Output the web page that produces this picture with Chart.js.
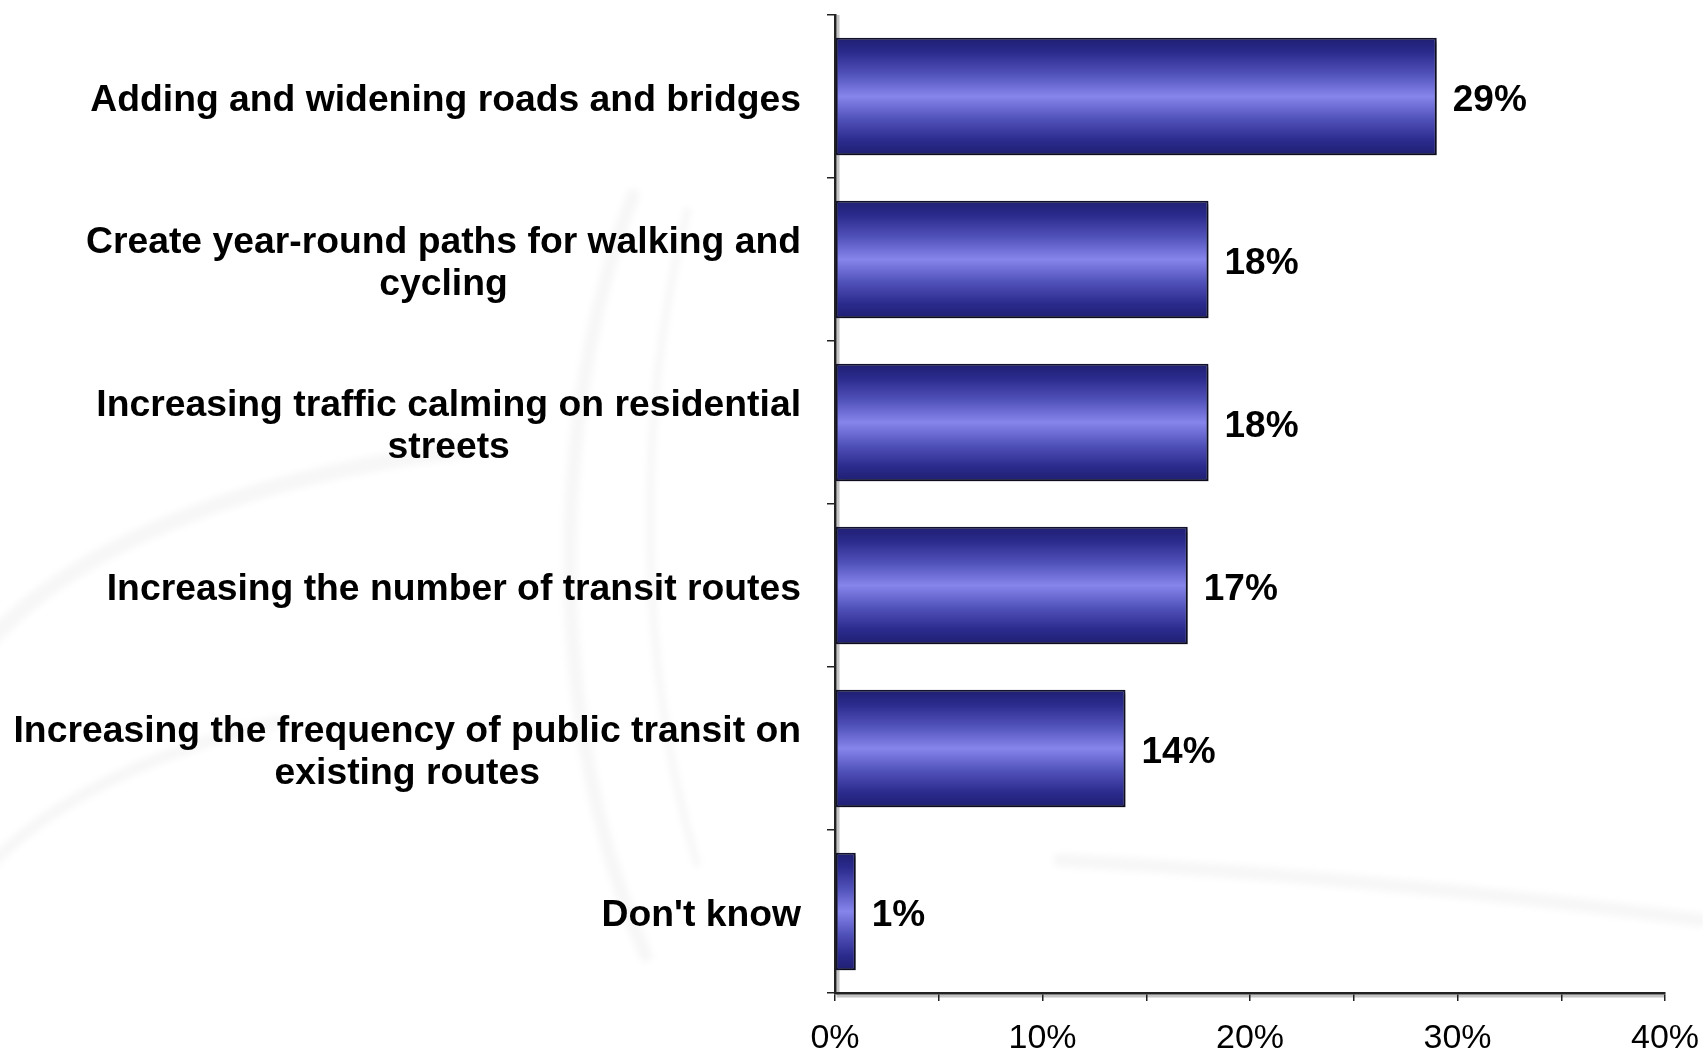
<!DOCTYPE html>
<html>
<head>
<meta charset="utf-8">
<script src="https://cdn.jsdelivr.net/npm/chart.js@4"></script>
<style>
  html, body { margin: 0; padding: 0; background: #fff; }
  #wrap { width: 1703px; height: 1049px; }
</style>
</head>
<body>
<div id="wrap"><canvas id="userChart" width="1703" height="1049"></canvas></div>
<script>
    // survey answers, one bar each
    let categories = [
        ['Adding and widening roads and bridges'],
        ['Create year-round paths for walking and', 'cycling'],
        ['Increasing traffic calming on residential', 'streets'],
        ['Increasing the number of transit routes'],
        ['Increasing the frequency of public transit on', 'existing routes'],
        ["Don't know"]
    ];
    let shares = [29, 18, 18, 17, 14, 1];

    let axisMin = 0;
    let axisMax = 40;
    let axisStep = 5;
    let labelStep = 10;

    let font = "'Liberation Sans', Arial, sans-serif";

    // vertical shine across each bar
    function barFill(c) {
        let chart = c.chart;
        let y = chart.scales.y;
        if (!chart.chartArea || !y) return '#4b4bb0';
        let mid = y.getPixelForValue(c.dataIndex);
        let half = (chart.chartArea.height / categories.length) * 0.72 / 2;
        let g = chart.ctx.createLinearGradient(0, mid - half, 0, mid + half);
        g.addColorStop(0, '#1f1f72');
        g.addColorStop(0.12, '#2a2a8c');
        g.addColorStop(0.3, '#4f4fb8');
        g.addColorStop(0.5, '#8585ec');
        g.addColorStop(0.7, '#4f4fb8');
        g.addColorStop(0.88, '#2a2a8c');
        g.addColorStop(1, '#1f1f72');
        return g;
    }

    // faint swooshes behind the chart
    let backdrop = {
        id: 'backdrop',
        beforeDraw(chart) {
            let ctx = chart.ctx;
            ctx.save();
            ctx.strokeStyle = 'rgba(0,0,0,0.03)';
            ctx.lineCap = 'round';
            ctx.filter = 'blur(3px)';
            ctx.lineWidth = 14;
            ctx.beginPath();
            ctx.ellipse(900, 560, 330, 620, 0, Math.PI * 0.78, Math.PI * 1.2);
            ctx.stroke();
            ctx.lineWidth = 8;
            ctx.beginPath();
            ctx.ellipse(950, 520, 300, 640, 0, Math.PI * 0.82, Math.PI * 1.16);
            ctx.stroke();
            ctx.lineWidth = 16;
            ctx.beginPath();
            ctx.ellipse(640, 760, 700, 320, 0, Math.PI * 1.08, Math.PI * 1.42);
            ctx.stroke();
            ctx.lineWidth = 12;
            ctx.beginPath();
            ctx.ellipse(560, 980, 620, 290, 0, Math.PI * 1.05, Math.PI * 1.35);
            ctx.stroke();
            ctx.lineWidth = 14;
            ctx.beginPath();
            ctx.moveTo(1060, 860);
            ctx.quadraticCurveTo(1400, 880, 1700, 920);
            ctx.stroke();
            ctx.restore();

            // soft grey shadow under the axis lines
            let a = chart.chartArea;
            ctx.save();
            ctx.strokeStyle = '#c4c4c4';
            ctx.lineWidth = 3;
            ctx.beginPath();
            ctx.moveTo(a.left + 3, a.top);
            ctx.lineTo(a.left + 3, a.bottom + 3);
            ctx.lineTo(a.right, a.bottom + 3);
            ctx.stroke();
            ctx.restore();
        },
        beforeDatasetsDraw(chart) {
            let ctx = chart.ctx;
            ctx.save();
            ctx.shadowColor = 'rgba(0,0,0,0.35)';
            ctx.shadowOffsetX = 2;
            ctx.shadowOffsetY = 3;
            ctx.shadowBlur = 2;
        },
        afterDatasetsDraw(chart) {
            chart.ctx.restore();
        }
    };

    // category names: block right-aligned to the axis, lines centred inside the block
    let categoryText = {
        id: 'categoryText',
        afterDraw(chart) {
            let ctx = chart.ctx;
            let y = chart.scales.y;
            let right = chart.chartArea.left - 34;
            let lh = 42;
            ctx.save();
            ctx.font = 'bold 37.3px ' + font;
            ctx.fillStyle = '#000';
            ctx.textAlign = 'center';
            ctx.textBaseline = 'middle';
            categories.forEach((lines, i) => {
                let w = Math.max(...lines.map(t => ctx.measureText(t).width));
                let cx = right - w / 2;
                let cy = y.getPixelForValue(i) + 4 - (lines.length - 1) * lh / 2;
                lines.forEach((t, k) => ctx.fillText(t, cx, cy + k * lh));
            });
            ctx.restore();
        }
    };

    // value next to the end of each bar
    let valueText = {
        id: 'valueText',
        afterDatasetsDraw(chart) {
            let ctx = chart.ctx;
            let meta = chart.getDatasetMeta(0);
            ctx.save();
            ctx.font = 'bold 37px ' + font;
            ctx.fillStyle = '#000';
            ctx.textAlign = 'left';
            ctx.textBaseline = 'middle';
            meta.data.forEach((bar, i) => {
                ctx.fillText(shares[i] + '%', bar.x + 16, bar.y + 4);
            });
            ctx.restore();
        }
    };

    let ctx = document.getElementById('userChart').getContext('2d');
    let chart = new Chart(ctx, {
        type: 'bar',
        data: {
            labels: categories,
            datasets: [{
                data: shares,
                backgroundColor: barFill,
                borderColor: '#12122e',
                borderWidth: 2,
                borderSkipped: false,
                barPercentage: 0.72,
                categoryPercentage: 1
            }]
        },
        options: {
            indexAxis: 'y',
            responsive: false,
            animation: false,
            layout: { padding: { top: 15, right: 38, left: 0, bottom: 0 } },
            plugins: {
                legend: { display: false },
                tooltip: { enabled: false }
            },
            scales: {
                x: {
                    min: axisMin,
                    max: axisMax,
                    afterFit(s) {
                        s.height = 56;
                        s.paddingLeft = 0;
                        s.paddingRight = 0;
                    },
                    ticks: {
                        stepSize: axisStep,
                        autoSkip: false,
                        maxRotation: 0,
                        padding: 17,
                        color: '#000',
                        font: { family: font, size: 34 },
                        callback: v => v % labelStep === 0 ? v + '%' : ''
                    },
                    grid: {
                        drawOnChartArea: false,
                        color: '#222',
                        lineWidth: 1.5,
                        tickLength: 8
                    },
                    border: { color: '#222', width: 2.5 }
                },
                y: {
                    afterFit(s) { s.width = 835; },
                    ticks: { display: false },
                    grid: {
                        drawOnChartArea: false,
                        offset: true,
                        color: '#222',
                        lineWidth: 1.5,
                        tickLength: 8
                    },
                    border: { color: '#222', width: 2.5 }
                }
            }
        },
        plugins: [backdrop, categoryText, valueText]
    });
</script>
</body>
</html>
